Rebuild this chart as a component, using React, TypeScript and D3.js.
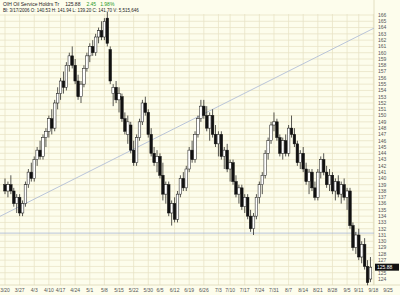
import React from 'react';
import * as d3 from 'd3';

const tickLabels = ['3/20','3/27','4/3','4/10','4/17','4/24','5/1','5/8','5/15','5/22','5/30','6/5','6/12','6/19','6/26','7/3','7/10','7/17','7/24','7/31','8/7','8/14','8/21','8/28','9/5','9/11','9/18','9/25'];
const tickIndex = [0,5,10,15,19,24,29,34,39,44,49,53,58,63,68,73,77,82,87,92,97,102,107,112,117,121,126,131];

const opens = [139,138,139,138,136,137,134.5,136,139,141,140,143,144.5,143.5,146.5,147.5,149.5,148,152,153.5,155.5,154.5,158,159.5,158,155.5,153,155,157.5,159.5,161,160,162.5,163.5,162.5,165.5,160.5,153.5,154.5,152.5,153,149.5,147,148.5,144.5,142.5,146.5,149,152,150.5,147,144,142.5,143.5,140.5,137.5,139,134.5,136,133.5,137.5,140,138.5,141.5,144.5,143,147,149.5,151.5,150,148,150,147,145.5,147,143.5,144.5,141.5,142.5,139.5,137.5,138.5,135.5,137,134,132,134,137,139,140.5,144,146,148.5,149,146.5,144,146,144,148,147,145.5,142.5,144,141.5,139.5,141,138.5,137,141,143,141,139,140.5,138,139.5,137.5,139,137,138,132.5,129,131,127.5,129.5,126,124];
const highs = [140,139.5,140.5,138.5,137.5,137.5,136.5,139.5,141.5,142.5,143.5,145,146,147,148,150,151,152.5,154.5,156,157,158.5,160,161,159,156.5,155.5,158,160,161.5,162,163,164,165,165.5,166.5,161,155,155.5,154.5,153.5,150.5,150,149,146,147,149.5,152.5,153,151,148,145,144.5,144,142.5,139.5,139.5,136.5,137,138,140.5,141,142,145,146,147.5,150,152.5,152.5,151.5,150.5,151,148.5,147.5,147.5,145,145.5,143,143,140.5,139,139,137.5,137.5,135,134.5,137.5,139.5,141,144.5,146.5,149,150.5,149.5,147,146.5,147,148.5,150,148,146,144.5,145,142.5,141.5,141.5,139.5,141.5,143.5,144,142,141.5,141,140,140.5,139.5,140,138.5,138.5,133,131.5,132,130,130.5,127,127.5];
const lows = [137.5,137,137.5,135.5,134.5,134,134,135.5,138.5,139.5,139.5,142,143,143,145,146.5,147,147.5,151,152.5,153.5,154,157,157.5,155,152.5,152,154.5,157,158.5,159.5,159.5,161.5,162,162,161,155,151.5,152,150.5,149,147,145.5,144,142,142,146,148.5,150,146.5,143.5,142,141,140,136.5,136,134,132.5,133,133,137,138,138,141,142.5,142.5,146.5,149,149.5,147.5,146,146.5,145,143.5,143,141.5,141,139.5,139,137,136,135,134.5,133.5,131.5,131,133.5,136,137.5,140,143,145.5,147.5,146,143.5,143,143.5,143.5,146.5,145,142,141.5,141,139,137.5,138,136.5,136.5,140,140.5,138.5,138,137.5,136.5,137,136,136.5,135,132,128.5,128,127,126.5,125.5,123,123.5];
const closes = [138,139,138,136,137,134.5,136,139,141,140,143,144.5,143.5,146.5,147.5,149.5,148,152,153.5,155.5,154.5,158,159.5,158,155.5,153,155,157.5,159.5,161,160,162.5,163.5,162.5,165,161.5,155.5,154.5,152.5,153.5,149.5,147.5,149,144.5,142.5,146.5,149,152,150.5,147,144,142.5,143.5,140.5,137.5,139,134.5,136,133.5,137.5,140,138.5,141.5,144.5,143,147,149.5,151.5,150,148,150,147,145.5,147,143.5,144.5,141.5,142.5,139.5,137.5,138.5,135.5,137,134,132,134,137,139,140.5,144,146,148.5,149,146.5,144,146,144,148,147,145.5,142.5,144,141.5,139.5,141,138.5,137,141,143,141,139,140.5,138,139.5,137.5,139,137,138,132.5,129,131,127.5,129.5,126,123.43,125.88];

const priceTicks = d3.range(124, 167, 1);
const trendIdx = [-2, 130];
const trendPrice = [133.9, 164.8];
const supportPrice = 131.3;
const lastPrice = 125.88;

export default function App() {
  const W = 400, H = 295;
  const plotL = 0, plotR = 374, plotT = 14, plotB = 285;
  const x = d3.scaleLinear().domain([0, 131]).range([5, 388]);
  const y = d3.scaleLinear().domain([124, 166]).range([279, 15]);
  const n = opens.length;
  const tl = d3.line<number>().x((d, k) => x(trendIdx[k])).y((d) => y(d));
  const lastY = y(lastPrice);
  return (
    <svg width={W} height={H} style={{ position: 'absolute', left: 0, top: 0, fontFamily: 'Liberation Sans, Arial, sans-serif' }}>
      <rect x={0} y={0} width={W} height={H} fill="#fdfdec" />
      <defs>
        <clipPath id="pc"><rect x={plotL} y={plotT} width={plotR - plotL} height={plotB - plotT} /></clipPath>
      </defs>
      {priceTicks.map((p) => (
        <line key={'h' + p} x1={plotL} x2={plotR} y1={y(p)} y2={y(p)} stroke="#e8e3c6" strokeWidth={0.8} />
      ))}
      {tickIndex.map((t, k) => (
        x(t) < plotR ? <line key={'v' + k} x1={x(t)} x2={x(t)} y1={plotT} y2={plotB} stroke="#e8e3c6" strokeWidth={0.8} /> : null
      ))}
      <line x1={plotR} x2={plotR} y1={0} y2={plotB} stroke="#dcd7b8" strokeWidth={0.8} />
      <line x1={plotL} x2={W} y1={plotB} y2={plotB} stroke="#dcd7b8" strokeWidth={0.8} />
      <g clipPath="url(#pc)">
        <path d={tl(trendPrice) || ''} stroke="#a9b8d6" strokeWidth={0.8} fill="none" />
        <line x1={plotL} x2={plotR} y1={y(supportPrice)} y2={y(supportPrice)} stroke="#a9b8d6" strokeWidth={0.8} />
      </g>
      {d3.range(n).map((i) => {
        const o = opens[i], c = closes[i];
        const up = c >= o;
        const cx = x(i);
        const top = y(Math.max(o, c)), bot = y(Math.min(o, c));
        return (
          <g key={i}>
            <line x1={cx} x2={cx} y1={y(highs[i])} y2={y(lows[i])} stroke="#111" strokeWidth={0.7} />
            <rect x={cx - 1.3} y={top} width={2.6} height={Math.max(0.6, bot - top)} fill={up ? '#ffffff' : '#111'} stroke="#111" strokeWidth={0.5} />
          </g>
        );
      })}
      {priceTicks.filter((p) => Math.abs(y(p) - lastY) > 5).map((p) => (
        <text key={'t' + p} x={378} y={y(p) + 1.8} fontSize={5} fill="#555">{p}</text>
      ))}
      <rect x={375} y={lastY - 3.5} width={24} height={7} fill="#111" />
      <text x={377} y={lastY + 1.8} fontSize={5} fill="#fff">{lastPrice.toFixed(2)}</text>
      {tickIndex.map((t, k) => (
        <text key={'x' + k} x={x(t)} y={292} fontSize={5} fill="#555" textAnchor="middle">{tickLabels[k]}</text>
      ))}
      <text x={3} y={6} fontSize={5} fill="#222">OIH Oil Service Holdrs Tr
        <tspan dx={6}>125.88</tspan>
        <tspan dx={6} fill="#2a9a2a">2.45</tspan>
        <tspan dx={4} fill="#2a9a2a">1.98%</tspan>
      </text>
      <text x={3} y={12} fontSize={4.5} fill="#222">Bl: 3/17/2006 O: 140.53 H: 141.94 L: 139.20 C: 141.70 V: 5,515,646</text>
    </svg>
  );
}
